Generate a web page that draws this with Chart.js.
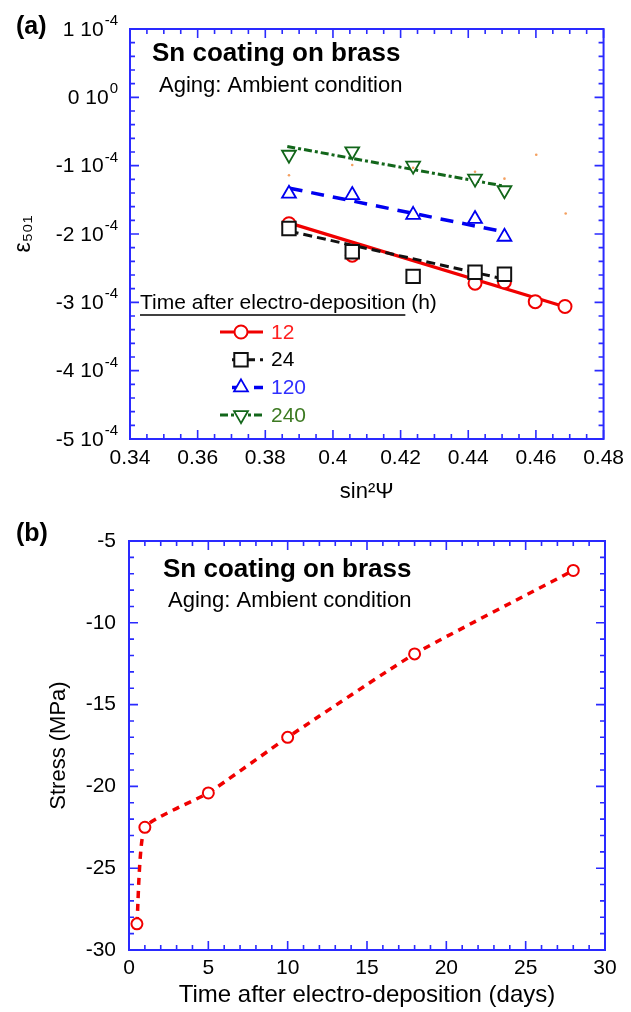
<!DOCTYPE html>
<html>
<head>
<meta charset="utf-8">
<script src="https://cdn.jsdelivr.net/npm/chart.js@4.4.0/dist/chart.umd.min.js"></script>
<style>
  body { margin: 0; background: #fff; }
  canvas { position: absolute; left: 0; }
</style>
</head>
<body>
<canvas id="chartA" width="631" height="505" style="top:0"></canvas>
<canvas id="chartB" width="631" height="507" style="top:505px"></canvas>
<script>
// ---- panel (a): strain, in units of 1e-4 ----
const sin2psi = [0.387, 0.4057, 0.4237, 0.442, 0.4507];
const sin2psi12 = [0.387, 0.4057, 0.442, 0.4507, 0.4598, 0.4686];
const strain12 = [-1.85, -2.31, -2.72, -2.70, -2.99, -3.06];
const strain24 = [-1.92, -2.26, -2.62, -2.56, -2.59];
const strain120 = [-1.41, -1.43, -1.72, -1.78, -2.04];
const strain240 = [-0.84, -0.79, -1.00, -1.19, -1.36];
// fitted lines (end points)
const fitX12 = [0.3865, 0.4695], fitY12 = [-1.83, -3.08];
const fitX24 = [0.3872, 0.4507], fitY24 = [-1.96, -2.66];
const fitX120 = [0.3872, 0.4507], fitY120 = [-1.33, -1.97];
const fitX240 = [0.3865, 0.4507], fitY240 = [-0.72, -1.30];
// little orange specks
const speckX = [0.387, 0.4057, 0.4237, 0.442, 0.4507, 0.4601, 0.4688];
const speckY = [-1.14, -0.99, -1.03, -1.09, -1.19, -0.84, -1.70];
const xTicksA = [0.34, 0.36, 0.38, 0.4, 0.42, 0.44, 0.46, 0.48];
const yTicksA = [-5, -4, -3, -2, -1, 0, 1];
const yExpA = ['-4', '-4', '-4', '-4', '-4', '0', '-4'];
const legendNames = ['12', '24', '120', '240'];

// ---- panel (b): stress vs days ----
const days = [0.5, 1, 5, 10, 18, 28];
const stress = [-28.4, -22.5, -20.4, -17.0, -11.9, -6.8];
const xTicksB = [0, 5, 10, 15, 20, 25, 30];
const yTicksB = [-30, -25, -20, -15, -10, -5];

const FONT = "'Liberation Sans', Arial, sans-serif";
const AXIS = '#2a2aff';
const RED = '#f00000', BLUE = '#0000f0', GREEN = '#12661a';

const pts = (xs, ys) => xs.map((x, i) => ({ x: x, y: ys[i] }));

// frame + inward ticks on all four sides, plus free texts / legend
const framePlugin = {
  id: 'frame',
  afterDraw(chart, args, o) {
    const { ctx, chartArea: a } = chart;
    const sx = chart.scales.x, sy = chart.scales.y;
    ctx.save();
    ctx.strokeStyle = AXIS;
    ctx.lineWidth = 2;
    ctx.strokeRect(a.left, a.top, a.right - a.left, a.bottom - a.top);
    ctx.lineWidth = 1.6;
    ctx.beginPath();
    const nx = Math.round((sx.max - sx.min) / o.xMinor);
    for (let i = 0; i <= nx; i++) {
      const px = sx.getPixelForValue(sx.min + i * o.xMinor);
      const len = i % o.xEvery === 0 ? 9 : 5;
      ctx.moveTo(px, a.bottom); ctx.lineTo(px, a.bottom - len);
      ctx.moveTo(px, a.top); ctx.lineTo(px, a.top + len);
    }
    const ny = Math.round((sy.max - sy.min) / o.yMinor);
    for (let i = 0; i <= ny; i++) {
      const py = sy.getPixelForValue(sy.min + i * o.yMinor);
      const len = i % o.yEvery === 0 ? 9 : 5;
      ctx.moveTo(a.left, py); ctx.lineTo(a.left + len, py);
      ctx.moveTo(a.right, py); ctx.lineTo(a.right - len, py);
    }
    ctx.stroke();

    ctx.textBaseline = 'middle';
    (o.texts || []).forEach(t => {
      ctx.font = t.font;
      ctx.fillStyle = '#000';
      ctx.fillText(t.text, t.x, t.y);
    });

    // "n 10^e" tick labels with a real raised exponent
    if (o.expLabels) {
      ctx.fillStyle = '#000';
      ctx.textAlign = 'right';
      yTicksA.forEach((v, i) => {
        const py = sy.getPixelForValue(v);
        const right = a.left - 12;
        ctx.font = '15px ' + FONT;
        const ew = ctx.measureText(yExpA[i]).width;
        ctx.fillText(yExpA[i], right, py - 8);
        ctx.font = '21px ' + FONT;
        ctx.fillText(v + ' 10', right - ew - 1, py + 1);
      });
      ctx.textAlign = 'left';
    }

    const lg = o.legend;
    if (lg) {
      ctx.font = lg.font;
      ctx.fillStyle = '#000';
      ctx.fillText(lg.title, lg.x, lg.y);
      const w = ctx.measureText(lg.underlined).width;
      ctx.strokeStyle = '#000';
      ctx.lineWidth = 1.5;
      ctx.beginPath();
      ctx.moveTo(lg.x, lg.y + 12); ctx.lineTo(lg.x + w, lg.y + 12);
      ctx.stroke();
      lg.items.forEach((it, i) => {
        const line = chart.data.datasets[it.line];
        const mk = chart.data.datasets[it.marker];
        const y = lg.row0 + i * lg.rowGap;
        ctx.strokeStyle = line.borderColor;
        ctx.lineWidth = line.borderWidth;
        ctx.setLineDash(line.borderDash || []);
        ctx.beginPath();
        ctx.moveTo(it.x0, y); ctx.lineTo(lg.x1, y);
        ctx.stroke();
        ctx.setLineDash([]);
        ctx.fillStyle = mk.pointBackgroundColor;
        ctx.strokeStyle = mk.pointBorderColor;
        ctx.lineWidth = mk.pointBorderWidth;
        Chart.helpers.drawPoint(ctx, {
          pointStyle: mk.pointStyle, radius: mk.pointRadius,
          rotation: mk.pointRotation || 0, borderWidth: mk.pointBorderWidth
        }, lg.mx, y);
        ctx.font = lg.font;
        ctx.fillStyle = it.color;
        ctx.fillText(legendNames[i], lg.tx, y + 1);
      });
    }
    ctx.restore();
  }
};

function markers(xs, ys, style, color, radius, extra) {
  return Object.assign({
    data: pts(xs, ys), showLine: false, pointStyle: style,
    pointRadius: radius, pointBorderColor: color, pointBorderWidth: 2,
    pointBackgroundColor: '#fff', pointHoverRadius: radius
  }, extra || {});
}
function fitLine(xs, ys, color, width, dash) {
  return {
    data: pts(xs, ys), showLine: true, pointRadius: 0,
    borderColor: color, borderWidth: width, borderDash: dash, fill: false
  };
}

// ---------- chart (a) ----------
const dsA = [
  { data: pts(speckX, speckY), showLine: false, pointRadius: 1.3, pointBorderWidth: 0, pointBackgroundColor: '#f4a060' },
  markers(sin2psi, strain24, 'rect', '#111', 9.5),
  markers(sin2psi12, strain12, 'circle', RED, 6.5),
  markers(sin2psi, strain120, 'triangle', BLUE, 8, { pointBorderWidth: 1.8 }),
  markers(sin2psi, strain240, 'triangle', GREEN, 8, { pointBorderWidth: 1.8, pointRotation: 180 }),
  fitLine(fitX24, fitY24, '#111', 3, [9, 5]),
  fitLine(fitX12, fitY12, RED, 3.2, []),
  fitLine(fitX120, fitY120, BLUE, 3.5, [13, 9]),
  fitLine(fitX240, fitY240, GREEN, 3, [8, 3, 3, 3])
];

new Chart(document.getElementById('chartA'), {
  type: 'scatter',
  data: { datasets: dsA },
  options: {
    responsive: false,
    animation: false,
    layout: { padding: { top: 29, right: 24, left: 0, bottom: 0 } },
    plugins: {
      legend: { display: false },
      tooltip: { enabled: false },
      frame: {
        xMinor: 0.005, xEvery: 4, yMinor: 0.2, yEvery: 5, expLabels: true,
        texts: [
          { text: '(a)', x: 16, y: 27, font: 'bold 25px ' + FONT },
          { text: 'Sn coating on brass', x: 152, y: 54, font: 'bold 26px ' + FONT },
          { text: 'Aging: Ambient condition', x: 159, y: 86, font: '22px ' + FONT }
        ],
        legend: {
          title: 'Time after electro-deposition (h)',
          underlined: 'Time after electro-deposition',
          font: '21px ' + FONT, x: 140, y: 303,
          row0: 332, rowGap: 27.7, x1: 263, mx: 241, tx: 271,
          items: [
            { marker: 2, line: 6, x0: 220, color: '#ff2020' },
            { marker: 1, line: 5, x0: 232, color: '#000' },
            { marker: 3, line: 7, x0: 232, color: '#3030ff' },
            { marker: 4, line: 8, x0: 220, color: '#3d7a22' }
          ]
        }
      }
    },
    scales: {
      x: {
        type: 'linear', min: 0.34, max: 0.48,
        afterFit: s => { s.height = 66; },
        afterBuildTicks: s => { s.ticks = xTicksA.map(v => ({ value: v })); },
        grid: { display: false, drawTicks: false },
        border: { display: false },
        ticks: { color: '#000', font: { family: FONT, size: 21 }, padding: 7, maxRotation: 0,
                 callback: v => String(+v.toFixed(2)) },
        title: { display: true, text: 'sin²Ψ', color: '#000', font: { family: FONT, size: 22 }, padding: { top: 0, bottom: 0 } }
      },
      y: {
        type: 'linear', min: -5, max: 1,
        afterFit: s => { s.width = 130; },
        afterBuildTicks: s => { s.ticks = yTicksA.map(v => ({ value: v })); },
        grid: { display: false, drawTicks: false },
        border: { display: false },
        ticks: { display: false },
        title: { display: true, text: 'ε₅₀₁', color: '#000', font: { family: FONT, size: 23 }, padding: { top: 10, bottom: 0 } }
      }
    }
  },
  plugins: [framePlugin]
});

// ---------- chart (b) ----------
new Chart(document.getElementById('chartB'), {
  type: 'scatter',
  data: {
    datasets: [{
      data: pts(days, stress), showLine: true,
      borderColor: RED, borderWidth: 3.5, borderDash: [7, 6],
      tension: 0.14,
      pointStyle: 'circle', pointRadius: 5.5, pointBorderWidth: 2,
      pointBorderColor: RED, pointBackgroundColor: '#fff'
    }]
  },
  options: {
    responsive: false,
    animation: false,
    layout: { padding: { top: 36, right: 26, left: 0, bottom: 0 } },
    plugins: {
      legend: { display: false },
      tooltip: { enabled: false },
      frame: {
        xMinor: 1, xEvery: 5, yMinor: 1, yEvery: 5,
        texts: [
          { text: '(b)', x: 16, y: 29, font: 'bold 25px ' + FONT },
          { text: 'Sn coating on brass', x: 163, y: 65, font: 'bold 26px ' + FONT },
          { text: 'Aging: Ambient condition', x: 168, y: 96, font: '22px ' + FONT }
        ]
      }
    },
    scales: {
      x: {
        type: 'linear', min: 0, max: 30,
        afterFit: s => { s.height = 62; },
        afterBuildTicks: s => { s.ticks = xTicksB.map(v => ({ value: v })); },
        grid: { display: false, drawTicks: false },
        border: { display: false },
        ticks: { color: '#000', font: { family: FONT, size: 21 }, padding: 6, maxRotation: 0 },
        title: { display: true, text: 'Time after electro-deposition (days)', color: '#000',
                 font: { family: FONT, size: 24 }, padding: { top: 0, bottom: 2 } }
      },
      y: {
        type: 'linear', min: -30, max: -5,
        afterFit: s => { s.width = 129; },
        afterBuildTicks: s => { s.ticks = yTicksB.map(v => ({ value: v })); },
        grid: { display: false, drawTicks: false },
        border: { display: false },
        ticks: { color: '#000', font: { family: FONT, size: 21 }, padding: 13 },
        title: { display: true, text: 'Stress (MPa)', color: '#000', font: { family: FONT, size: 22 }, padding: { top: 46, bottom: 0 } }
      }
    }
  },
  plugins: [framePlugin]
});
</script>
</body>
</html>
